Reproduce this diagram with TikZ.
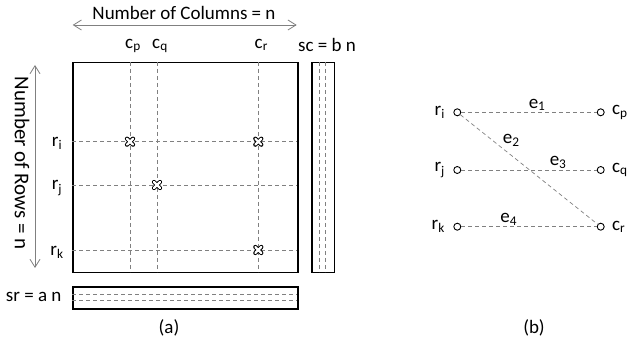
\documentclass[tikz,border=0pt]{standalone}
\usepackage{fontspec}
\setmainfont{Carlito}
\usetikzlibrary{
	arrows.meta,
	positioning
}
\definecolor{LineGray}{RGB}{128,128,128}
\newcommand{\idx}[2]{#1\textsubscript{#2}}

\begin{document}
\begin{tikzpicture}[x=1pt, y=-1pt, font=\fontsize{19}{22}\selectfont,
	gridline/.style={LineGray, line width=0.8pt, dash pattern=on 4pt off 3pt},
	frame/.style={draw, line width=1.5pt, inner sep=0pt, anchor=north west},
	dimarrow/.style={LineGray, line width=0.8pt, {Straight Barb[length=8pt,width=10pt]}-{Straight Barb[length=8pt,width=10pt]}},
	vertex/.style={circle, draw, line width=0.9pt, inner sep=0pt, minimum size=7pt},
	edge/.style={LineGray, line width=0.7pt, dash pattern=on 4pt off 3pt},
	elabel/.style={text=black, inner sep=1pt}]
	\useasboundingbox (0,0) rectangle (630,342);

	% (a) the matrix and its two sums
	\node[frame, minimum width=225, minimum height=210] (mat) at (72,62) {};
	\node[frame, minimum width=22.6, minimum height=210] (scbox) at (311,62) {};
	\node[frame, minimum width=225, minimum height=22] (srbox) at (72,286) {};
	\draw[gridline] (319,62) -- (319,272);
	\draw[gridline] (325.7,62) -- (325.7,272);
	\draw[gridline] (72,294.3) -- (297,294.3);
	\draw[gridline] (72,300.7) -- (297,300.7);

	\foreach \x/\c in {130/p, 157/q, 258.3/r} {
		\draw[gridline] (\x,62) -- (\x,272);
		\node[anchor=base] (c\c) at (\x+3,48.3) {\idx{c}{\c}};
	}
	\foreach \y/\r in {141.7/i, 185/j, 250/k} {
		\draw[gridline] (72,\y) -- (297,\y);
		\node[anchor=base] (r\r) at (57,\y+5) {\idx{r}{\r}};
	}
	% nonzero entries
	\foreach \p in {(130,141.7), (258.3,141.7), (157,185), (258.3,250)} {
		\draw[line width=4.2pt, line cap=round] \p ++(-3,-3) -- ++(6,6) \p ++(-3,3) -- ++(6,-6);
		\draw[white, line width=2.2pt, line cap=round] \p ++(-3,-3) -- ++(6,6) \p ++(-3,3) -- ++(6,-6);
	}

	\node[anchor=base] (ncols) at (184,20) {Number of Columns = n};
	\draw[dimarrow] (72.7,25) -- (296.7,25);
	\node[rotate=-90, font=\fontsize{21}{24}\selectfont] (nrows) at (22,163.4) {Number of Rows = n};
	\draw[dimarrow] (35,65) -- (35,268);
	\node[anchor=base] (sc) at (327,51.5) {sc = b n};
	\node[anchor=base] (sr) at (33.7,301.7) {sr = a n};
	\node (capa) at (169,328) {(a)};

	% (b) bipartite graph
	\node[vertex] (vi) at (457.3,112.3) {};
	\node[vertex] (vj) at (457.3,170) {};
	\node[vertex] (vk) at (457.3,226.7) {};
	\node[vertex] (vp) at (600.7,112.3) {};
	\node[vertex] (vq) at (600.7,170) {};
	\node[vertex] (vr) at (600.7,226.7) {};
	\node[left=5pt of vi] {\idx{r}{i}};
	\node[left=5pt of vj] {\idx{r}{j}};
	\node[left=5pt of vk] {\idx{r}{k}};
	\node[right=4pt of vp] {\idx{c}{p}};
	\node[right=4pt of vq] {\idx{c}{q}};
	\node[right=4pt of vr] {\idx{c}{r}};

	\draw[edge] (vi) -- node[elabel, pos=0.56, above] {\idx{e}{1}} (vp);
	\draw[edge] (vi) -- node[elabel, pos=0.3, anchor=south west] {\idx{e}{2}} (vr);
	\draw[edge] (vj) -- node[elabel, pos=0.715, above] {\idx{e}{3}} (vq);
	\draw[edge] (vk) -- node[elabel, pos=0.35, above] {\idx{e}{4}} (vr);
	\node (capb) at (534,328) {(b)};
\end{tikzpicture}
\end{document}
